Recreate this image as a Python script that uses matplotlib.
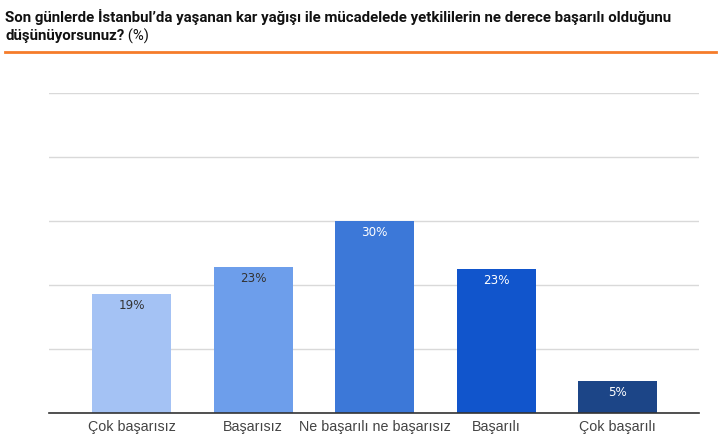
import matplotlib
matplotlib.use("Agg")
import matplotlib.pyplot as plt
from matplotlib.lines import Line2D

categories = ["Çok başarısız", "Başarısız", "Ne başarılı ne başarısız", "Başarılı", "Çok başarılı"]
values = [18.6, 22.8, 30.0, 22.5, 5.0]
labels = ["19%", "23%", "30%", "23%", "5%"]
colors = ["#A4C2F4", "#6D9EEB", "#3C78D8", "#1155CC", "#1C4587"]
label_colors = ["#333333", "#333333", "#ffffff", "#ffffff", "#ffffff"]
title1 = "Son günlerde İstanbul’da yaşanan kar yağışı ile mücadelede yetkililerin ne derece başarılı olduğunu"
title2a = "düşünüyorsunuz?"
title2b = " (%)"

fig = plt.figure(figsize=(7.18, 4.48), dpi=100)
ax = fig.add_axes([49/718, 35/448, 650/718, 320/448])
x = list(range(len(categories)))
bars = ax.bar(x, values, width=0.65, color=colors, zorder=3)
for b, lab, lc in zip(bars, labels, label_colors):
    ax.annotate(lab, (b.get_x() + b.get_width()/2, b.get_height()),
                xytext=(0, -3.5), textcoords="offset points", ha="center", va="top",
                fontsize=8.6, color=lc, family="DejaVu Sans", zorder=4)
ax.set_xlim(-0.68, 4.67)
ax.set_ylim(0, 50)
ax.set_yticks([0, 10, 20, 30, 40, 50])
ax.yaxis.grid(True, color="#d9d9d9", linewidth=1, zorder=0)
ax.tick_params(axis="y", length=0, labelleft=False)
ax.tick_params(axis="x", length=0, pad=5)
ax.set_xticks(x)
ax.set_xticklabels(categories, fontsize=10.3, color="#444444", family="Liberation Sans")
for s in ["top", "right", "left"]:
    ax.spines[s].set_visible(False)
ax.spines["bottom"].set_color("#333333")
ax.spines["bottom"].set_linewidth(1.2)
ax.spines["bottom"].set_zorder(5)

tfam = ["Liberation Sans Narrow", "Roboto", "DejaVu Sans"]
fig.text(5/718, 1 - 17/448, title1, fontsize=10.85, fontweight="bold", family=tfam,
         color="#111111", va="center", ha="left")
t2 = fig.text(5/718, 1 - 36/448, title2a, fontsize=10.85, fontweight="bold", family=tfam,
              color="#111111", va="center", ha="left")
fig.canvas.draw()
bb = t2.get_window_extent()
fig.text(bb.x1/718, 1 - 36/448, title2b, fontsize=10.85, family=tfam,
         color="#111111", va="center", ha="left")
fig.add_artist(Line2D([5/718, 716/718], [1 - 52/448, 1 - 52/448], color="#F57C2A",
                      linewidth=2, transform=fig.transFigure))

fig.savefig("out.png", dpi=100)
